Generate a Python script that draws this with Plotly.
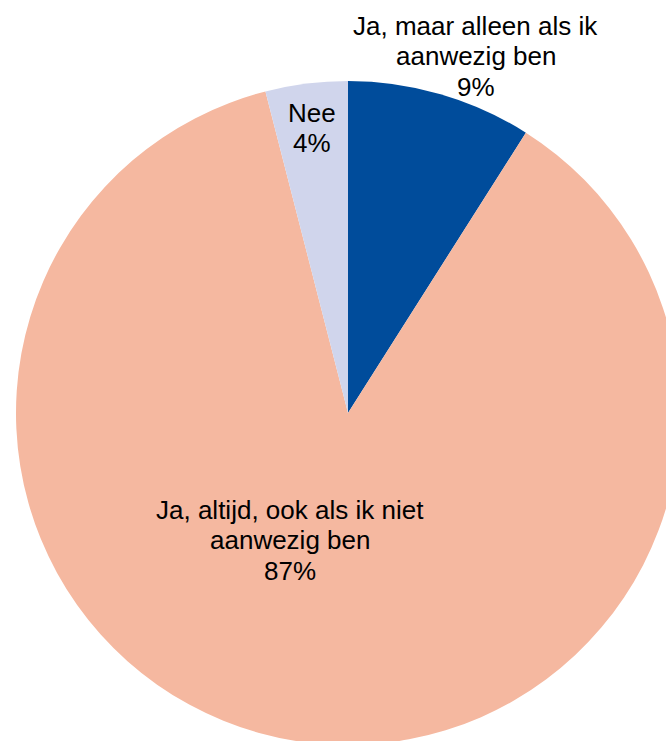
import plotly.graph_objects as go

# ---- data ----
labels = ["Ja, maar alleen als ik<br>aanwezig ben", "Ja, altijd, ook als ik niet<br>aanwezig ben", "Nee"]
values = [9, 87, 4]
colors = ["#004C9B", "#F5B8A0", "#D0D5EC"]

# ---- layout geometry (pixels in page) ----
W, H = 700, 760          # figure is larger than the window; page clips it
CX, CY, R = 348, 413, 332
label_pos = [(475.5, 56), (289.5, 540), (311.5, 128)]  # label block centres (px from top-left)
LINE_STEP = 30.5

fig = go.Figure(go.Pie(
    labels=labels,
    values=values,
    marker=dict(colors=colors, line=dict(width=0)),
    sort=False,
    direction="clockwise",
    rotation=0,
    textinfo="none",
    hoverinfo="skip",
    domain=dict(x=[(CX - R) / W, (CX + R) / W], y=[1 - (CY + R) / H, 1 - (CY - R) / H]),
    showlegend=False,
))

for lab, val, (px, py) in zip(labels, values, label_pos):
    lines = lab.split("<br>") + [f"{val}%"]
    n = len(lines)
    for i, line in enumerate(lines):
        ly = py + (i - (n - 1) / 2) * LINE_STEP
        fig.add_annotation(
            x=px / W, y=1 - ly / H, xref="paper", yref="paper",
            text=line, showarrow=False,
            xanchor="center", yanchor="middle", align="center",
            font=dict(family="Liberation Sans, Arial, sans-serif", size=26, color="#000000"),
        )

fig.update_layout(
    width=W, height=H,
    margin=dict(l=0, r=0, t=0, b=0),
    paper_bgcolor="white", plot_bgcolor="white",
)

post = """
document.documentElement.style.margin='0';
document.documentElement.style.overflow='hidden';
document.body.style.margin='0';
document.body.style.overflow='hidden';
var gd=document.getElementById('{plot_id}');
gd.parentElement.style.cssText='width:666px;height:741px;overflow:hidden;margin:0;padding:0;';
"""
fig.write_html("out.html", post_script=post, config={"displayModeBar": False, "staticPlot": True})
